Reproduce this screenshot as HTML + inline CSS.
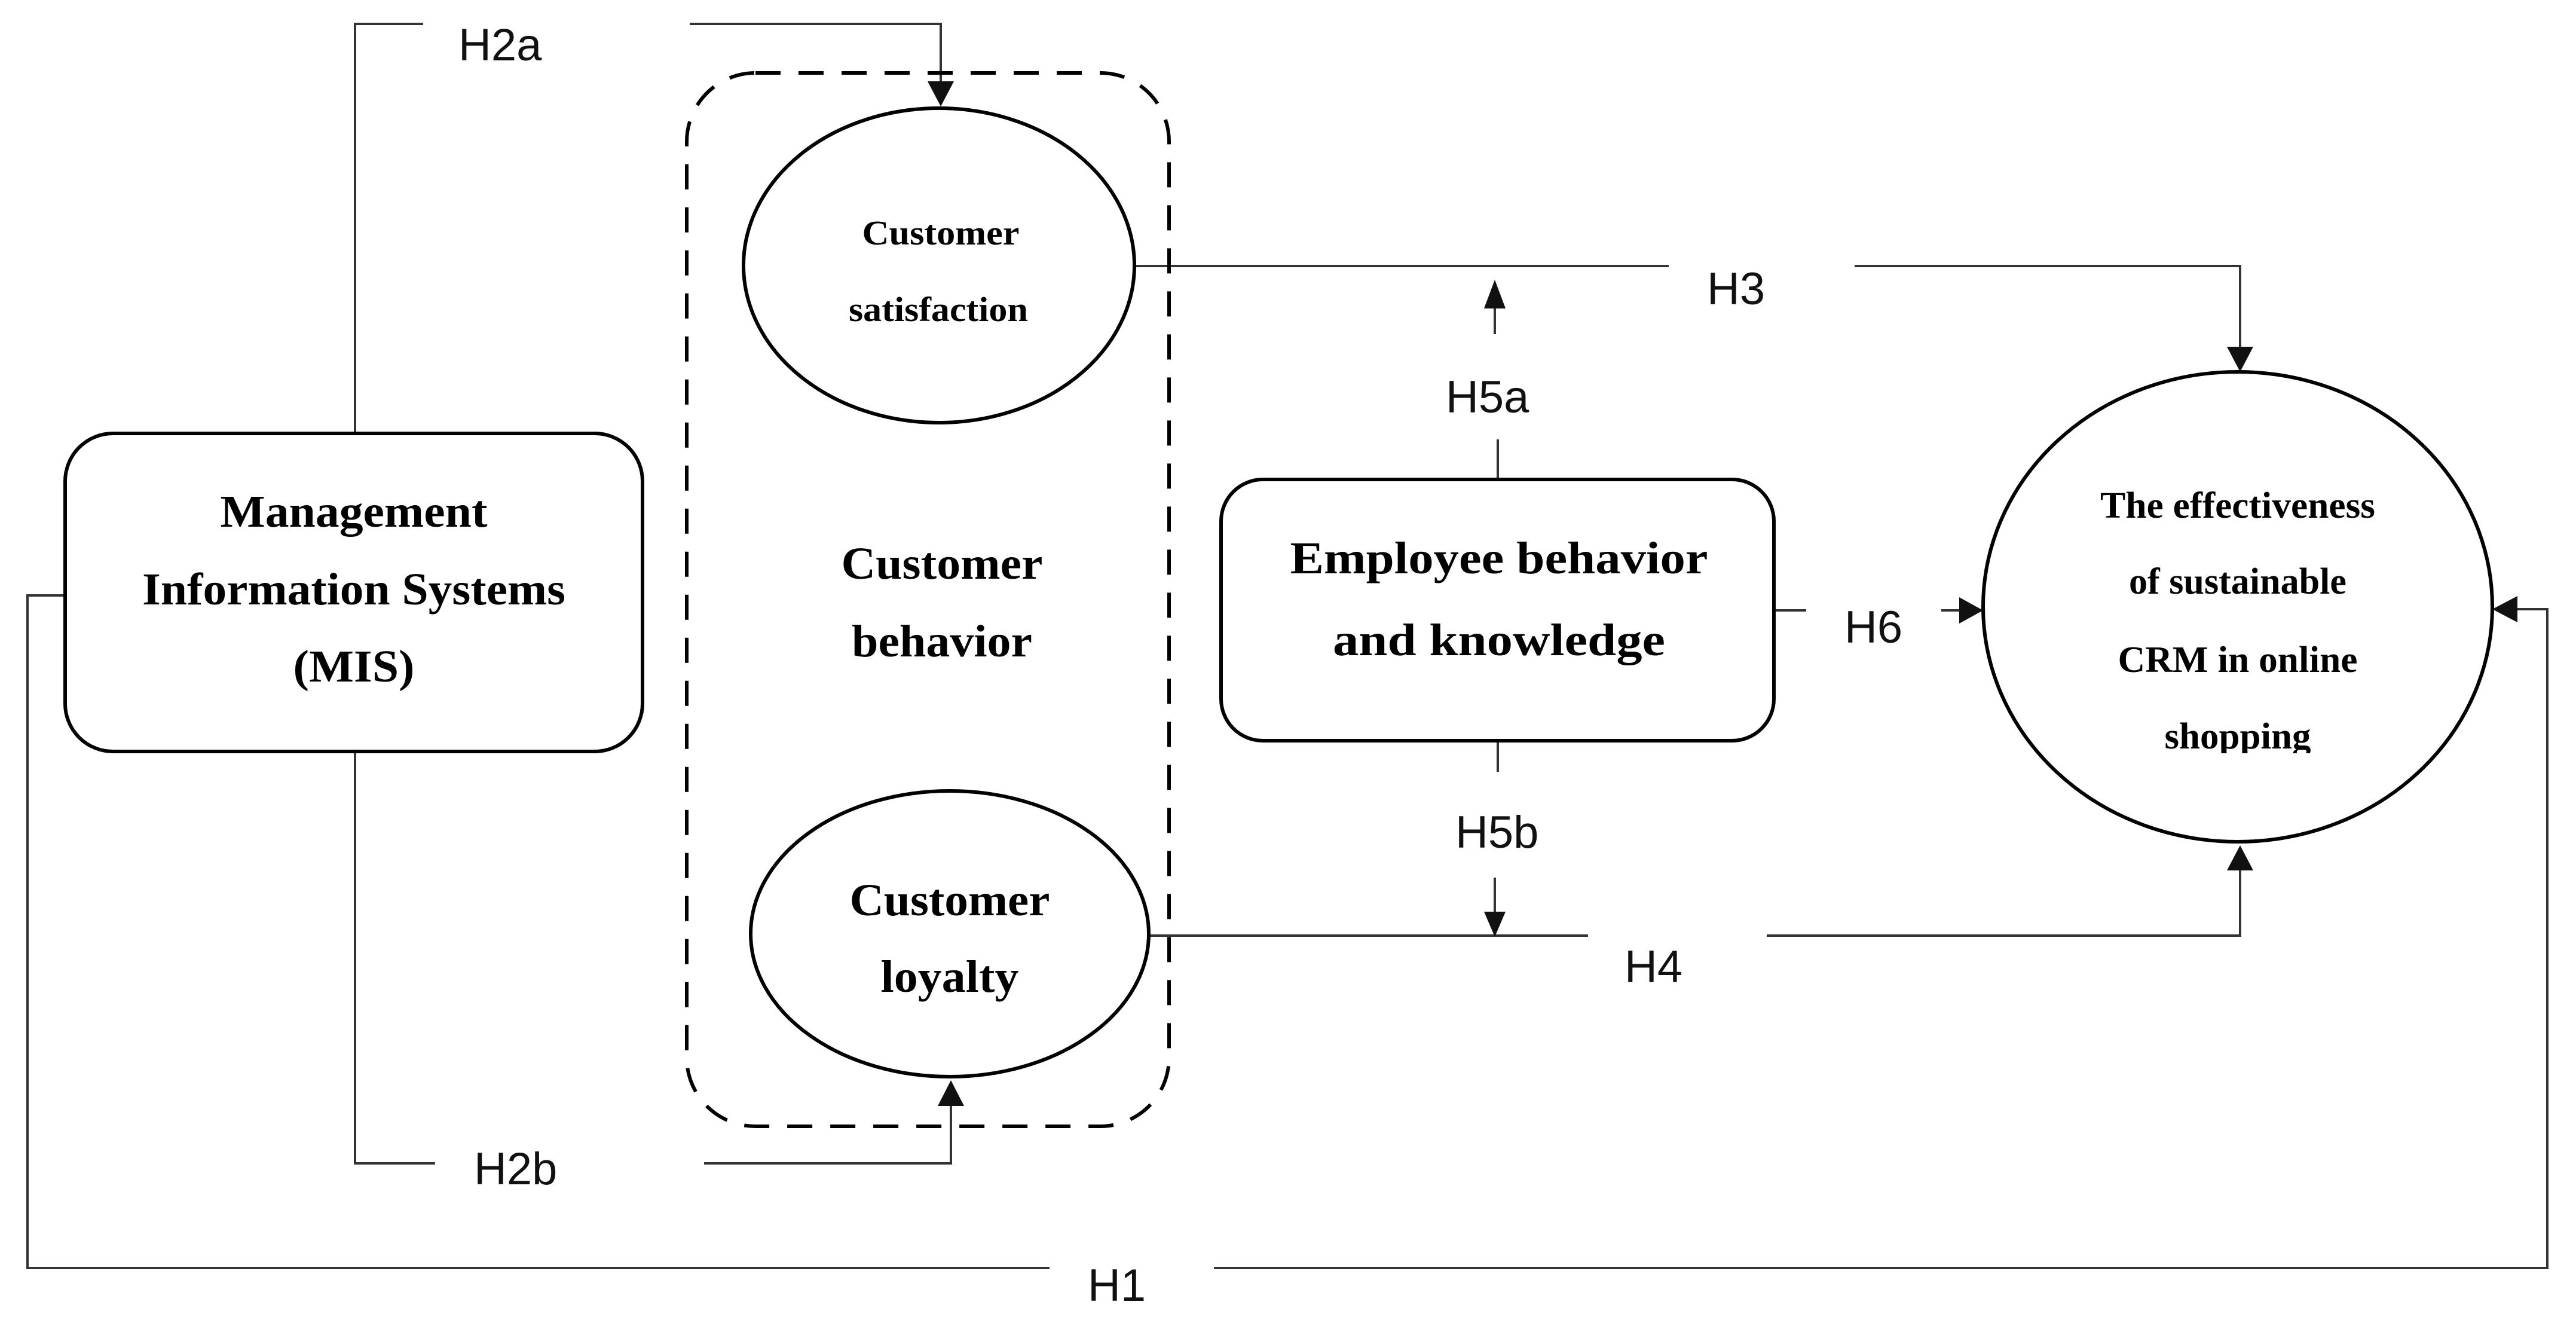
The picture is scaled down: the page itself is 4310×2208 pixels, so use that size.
<!DOCTYPE html>
<html><head><meta charset="utf-8"><style>
html,body{margin:0;padding:0;background:#fff;}
svg{display:block;}
.c{stroke:#333;stroke-width:4;fill:none;}
.s{stroke:#000;stroke-width:6;fill:none;}
.a{fill:#111;}
.l{font-family:"Liberation Sans",sans-serif;font-size:76px;fill:#111;}
.b{font-family:"Liberation Serif",serif;font-weight:bold;fill:#000;text-anchor:middle;}
</style></head><body>
<svg width="4310" height="2208" viewBox="0 0 4310 2208" xmlns="http://www.w3.org/2000/svg">
<rect width="4310" height="2208" fill="#fff"/>
<!-- connectors -->
<polyline class="c" points="594,725 594,40 708,40"/>
<polyline class="c" points="1154,40 1574,40 1574,140"/>
<polygon class="a" points="1552,136 1596,136 1574,178"/>
<polyline class="c" points="594,1257 594,1946 728,1946"/>
<polyline class="c" points="1178,1946 1591,1946 1591,1846"/>
<polygon class="a" points="1569,1850 1613,1850 1591,1807"/>
<polyline class="c" points="109,996 46,996 46,2121 1756,2121"/>
<polyline class="c" points="2031,2121 4262,2121 4262,1019 4210,1019"/>
<polygon class="a" points="4212,997 4212,1041 4170,1019"/>
<polyline class="c" points="1898,445 2792,445"/>
<polyline class="c" points="3103,445 3748,445 3748,585"/>
<polygon class="a" points="3726,580 3770,580 3748,622"/>
<polyline class="c" points="1922,1565 2657,1565"/>
<polyline class="c" points="2956,1565 3748,1565 3748,1452"/>
<polygon class="a" points="3726,1456 3770,1456 3748,1414"/>
<line class="c" x1="2506" y1="802" x2="2506" y2="735"/>
<line class="c" x1="2501" y1="559" x2="2501" y2="510"/>
<polygon class="a" points="2483,516 2519,516 2501,468"/>
<line class="c" x1="2506" y1="1239" x2="2506" y2="1291"/>
<line class="c" x1="2501" y1="1468" x2="2501" y2="1530"/>
<polygon class="a" points="2483,1525 2519,1525 2501,1567"/>
<line class="c" x1="2968" y1="1021" x2="3022" y2="1021"/>
<line class="c" x1="3248" y1="1021" x2="3282" y2="1021"/>
<polygon class="a" points="3278,999 3278,1043 3318,1021"/>
<!-- shapes -->
<rect class="s" x="109" y="725" width="966" height="532" rx="80"/>
<rect class="s" x="1149" y="122" width="807" height="1762" rx="115" stroke-dasharray="42 30"/>
<ellipse class="s" cx="1571" cy="444" rx="327" ry="263"/>
<ellipse class="s" cx="1589" cy="1562" rx="333" ry="239"/>
<rect class="s" x="2043" y="802" width="925" height="437" rx="70"/>
<ellipse class="s" cx="3744" cy="1015" rx="426" ry="393"/>
<!-- labels -->
<text class="l" x="767" y="101">H2a</text>
<text class="l" x="793" y="1981">H2b</text>
<text class="l" x="1820" y="2176">H1</text>
<text class="l" x="2856" y="509">H3</text>
<text class="l" x="2419" y="690">H5a</text>
<text class="l" x="3086" y="1075">H6</text>
<text class="l" x="2435" y="1418">H5b</text>
<text class="l" x="2718" y="1643">H4</text>
<!-- node text -->
<g class="b" font-size="76">
<text x="592" y="881" textLength="447" lengthAdjust="spacingAndGlyphs">Management</text>
<text x="592" y="1011" textLength="708" lengthAdjust="spacingAndGlyphs">Information Systems</text>
<text x="592" y="1140" textLength="203" lengthAdjust="spacingAndGlyphs">(MIS)</text>
<text x="1576" y="968" textLength="337" lengthAdjust="spacingAndGlyphs">Customer</text>
<text x="1576" y="1098" textLength="302" lengthAdjust="spacingAndGlyphs">behavior</text>
<text x="1589" y="1531" textLength="335" lengthAdjust="spacingAndGlyphs">Customer</text>
<text x="1589" y="1659" textLength="231" lengthAdjust="spacingAndGlyphs">loyalty</text>
<text x="2508" y="959" textLength="699" lengthAdjust="spacingAndGlyphs">Employee behavior</text>
<text x="2508" y="1096" textLength="556" lengthAdjust="spacingAndGlyphs">and knowledge</text>
</g>
<g class="b" font-size="58">
<text x="1574" y="409" textLength="263" lengthAdjust="spacingAndGlyphs">Customer</text>
<text x="1570" y="537" textLength="300" lengthAdjust="spacingAndGlyphs">satisfaction</text>
</g>
<clipPath id="cp"><rect x="3300" y="700" width="900" height="560"/></clipPath>
<g class="b" font-size="62" clip-path="url(#cp)">
<text x="3744" y="866" textLength="460" lengthAdjust="spacingAndGlyphs">The effectiveness</text>
<text x="3744" y="993" textLength="364" lengthAdjust="spacingAndGlyphs">of sustainable</text>
<text x="3744" y="1124" textLength="401" lengthAdjust="spacingAndGlyphs">CRM in online</text>
<text x="3744" y="1252" textLength="245" lengthAdjust="spacingAndGlyphs">shopping</text>
</g>
</svg>
</body></html>
